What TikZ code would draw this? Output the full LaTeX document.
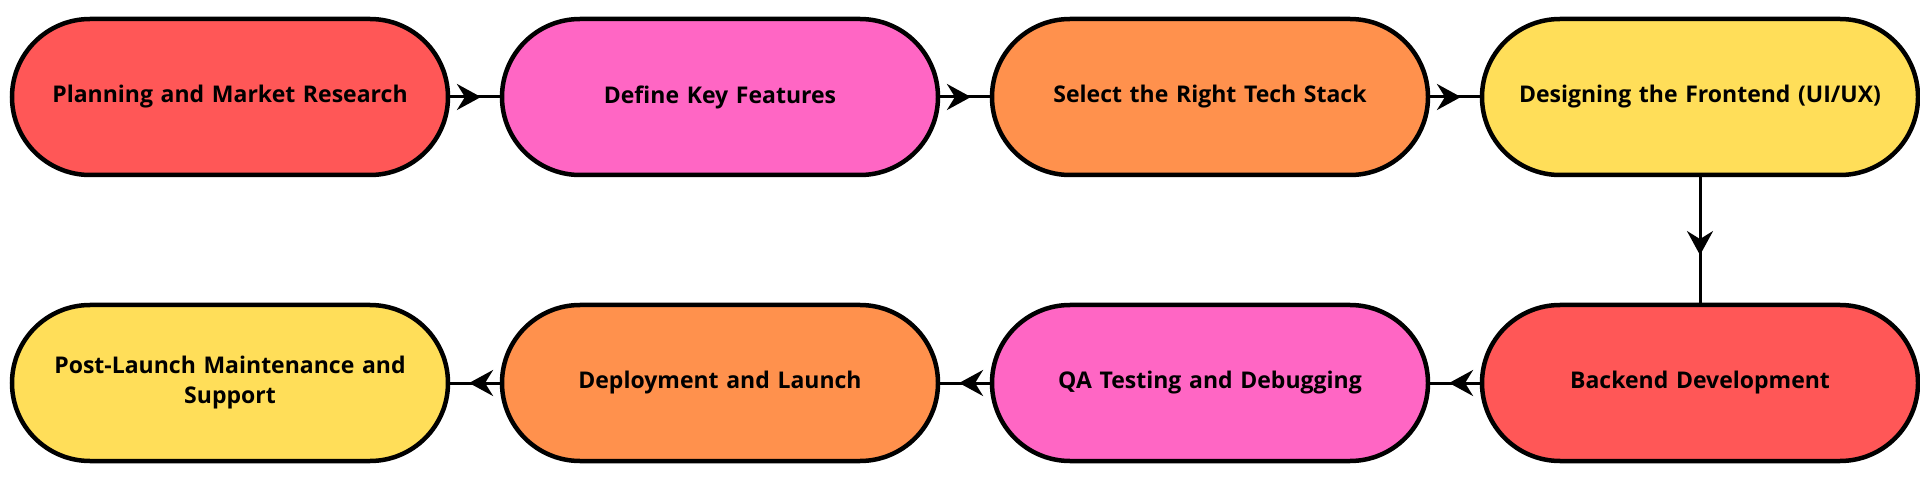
\documentclass[tikz,border=0pt]{standalone}
\usepackage{fontspec}
\setmainfont{Open Sans}
\usetikzlibrary{arrows.meta,decorations.markings}
\definecolor{cred}{HTML}{FF5757}
\definecolor{cpink}{HTML}{FF66C4}
\definecolor{corange}{HTML}{FF914D}
\definecolor{cyellow}{HTML}{FFDE59}
\begin{document}
\begin{tikzpicture}[x=1pt,y=1pt,
 box/.style={draw=black,line width=4.5pt,rounded corners=78pt,minimum width=436pt,minimum height=156pt,align=center,font=\fontsize{23}{30}\selectfont\bfseries,text width=400pt},
 flow/.style={line width=3pt,postaction={decorate},decoration={markings,mark=at position 0.62 with {\arrow{Stealth[length=24pt,width=26pt,inset=8pt]}}}}]
\useasboundingbox (0,0) rectangle (1920,-478);
\node[box,fill=cred] (a) at (230,-97) {Planning and Market Research};
\node[box,fill=cpink] (b) at (720,-97) {Define Key Features};
\node[box,fill=corange] (c) at (1210,-97) {Select the Right Tech Stack};
\node[box,fill=cyellow] (d) at (1700,-97) {Designing the Frontend (UI/UX)};
\node[box,fill=cred] (e) at (1700,-383) {Backend Development};
\node[box,fill=cpink] (f) at (1210,-383) {QA Testing and Debugging};
\node[box,fill=corange] (g) at (720,-383) {Deployment and Launch};
\node[box,fill=cyellow] (h) at (230,-383) {Post-Launch Maintenance and\\Support};
\draw[flow] (a.east) -- (b.west);
\draw[flow] (b.east) -- (c.west);
\draw[flow] (c.east) -- (d.west);
\draw[flow] (d.south) -- (e.north);
\draw[flow] (e.west) -- (f.east);
\draw[flow] (f.west) -- (g.east);
\draw[flow] (g.west) -- (h.east);
\end{tikzpicture}
\end{document}
